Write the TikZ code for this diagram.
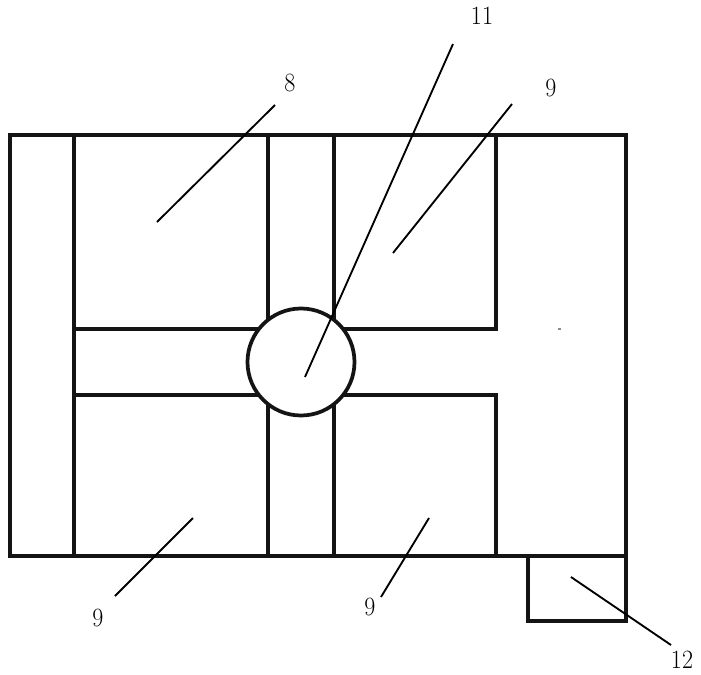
\documentclass[tikz,border=0pt]{standalone}
\newcommand{\tallnum}[1]{\scalebox{1}[1.1]{#1}}
\tikzset{wall/.style={line width=3pt,line cap=rect,line join=miter,draw=black!92},
lead/.style={line width=1.4pt,draw=black},
lab/.style={font=\fontsize{18}{21}\selectfont,inner sep=0pt,text=black}}
\begin{document}
\begin{tikzpicture}[x=0.75pt,y=-0.75pt]
\useasboundingbox (0,0) rectangle (701,675);
\draw[wall] (10,135) rectangle (626,556);
\draw[wall] (74,135) -- (74,556);
\draw[wall] (268,135) -- (268,320);
\draw[wall] (334,135) -- (334,320);
\draw[wall] (268,405) -- (268,556);
\draw[wall] (334,405) -- (334,556);
\draw[wall] (496,135) -- (496,329) -- (340,329);
\draw[wall] (496,556) -- (496,395) -- (340,395);
\draw[wall] (74,329) -- (260,329);
\draw[wall] (74,395) -- (260,395);
\draw[wall] (528,556) -- (528,621) -- (626,621) -- (626,556);
\node[circle,draw=black!92,line width=2.8pt,fill=white,minimum size=107*0.75pt,inner sep=0pt] (hub) at (301,362) {};
\fill[black!45] (557.5,328.2) rectangle (560.5,330);
\node[lab] (l11) at (482,16) {\tallnum{11}};
\node[lab] (l8) at (290,83) {\tallnum{8}};
\node[lab] (l9a) at (551,88) {\tallnum{9}};
\node[lab] (l9b) at (98,618) {\tallnum{9}};
\node[lab] (l9c) at (370,607) {\tallnum{9}};
\node[lab] (l12) at (682,660) {\tallnum{12}};
\coordinate (a11a) at (453,44); \coordinate (a11b) at (305,377);
\coordinate (a8a) at (275,105); \coordinate (a8b) at (157,222);
\coordinate (a9a) at (512,104); \coordinate (a9b) at (393,253);
\coordinate (a9c) at (115,596); \coordinate (a9d) at (193,518);
\coordinate (a9e) at (381,597); \coordinate (a9f) at (429,518);
\coordinate (a12a) at (671,645); \coordinate (a12b) at (571,577);
\draw[lead] (a11a) -- (a11b);
\draw[lead] (a8a) -- (a8b);
\draw[lead] (a9a) -- (a9b);
\draw[lead] (a9c) -- (a9d);
\draw[lead] (a9e) -- (a9f);
\draw[lead] (a12a) -- (a12b);
\end{tikzpicture}
\end{document}
